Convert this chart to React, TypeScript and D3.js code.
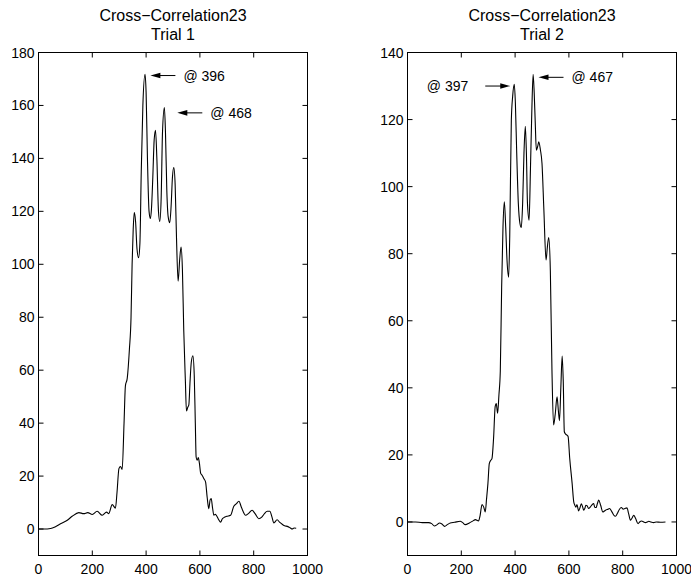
import React from 'react';
import * as d3 from 'd3';

// trial 1 cross-correlation (lag, value)
const trial1Lag = [
  0, 20, 45, 63, 82, 107, 125, 150, 168, 183, 200, 218, 237, 253, 261, 274, 286, 292, 299, 305, 311, 318, 323,
  330, 338, 344, 348, 352, 356, 361, 366, 372, 377, 382, 388, 396, 400, 405, 411, 416, 420, 425, 430, 435, 440,
  446, 451, 456, 461, 468, 472, 477, 482, 488, 493, 498, 503, 508, 513, 519, 525, 530, 535, 540, 546, 550, 555,
  559, 563, 568, 574, 579, 583, 586, 590, 594, 598, 603, 608, 615, 621, 627, 633, 638, 642, 647, 652, 657, 662,
  670, 677, 683, 689, 700, 714, 726, 735, 745, 755, 770, 780, 794, 805, 819, 830, 840, 850, 860, 868, 875, 887,
  897, 906, 915, 925, 935, 943, 950, 958,
];
const trial1Val = [
  0, 0, 0.2, 0.9, 2, 3.3, 4.8, 6.2, 5.8, 6.2, 5.5, 6.7, 5.2, 6.4, 5.8, 9.2, 7.9, 14, 22.8, 23.6, 22.5, 40, 54,
  57, 68, 80, 100, 113, 119.5, 116, 106, 102.5, 108, 135, 160, 171.8, 165, 140, 120, 117.3, 121, 133, 147, 150.6,
  140, 120, 116.2, 125, 150, 159.2, 150, 128, 118, 115.7, 122, 133, 136.5, 130, 110, 93.6, 102, 106.5, 98, 75,
  56, 44.6, 46, 47, 55, 63, 65.4, 58, 40, 27.2, 26, 27, 25, 21, 20.3, 19, 17.8, 12, 7.7, 11, 11.5, 8, 5.2, 5.6,
  5, 3.5, 2.6, 3.8, 4.3, 4.8, 5.2, 8.6, 9.5, 10.5, 8, 5.2, 5.8, 7.1, 5.8, 3.9, 4.5, 5.8, 6.7, 6.7, 4.5, 2.3,
  3.5, 2.5, 1.8, 1.2, 1, 0.5, 0, 0.4, 0.3,
];

// trial 2
const trial2Lag = [
  0, 30, 55, 78, 90, 100, 110, 119, 128, 138, 148, 159, 175, 196, 205, 215, 230, 245, 252, 264, 270, 277, 283,
  289, 294, 299, 304, 309, 314, 320, 326, 330, 335, 340, 345, 350, 355, 360, 365, 370, 376, 380, 386, 391, 397,
  401, 406, 412, 418, 423, 428, 433, 438, 442, 446, 452, 457, 462, 467, 471, 475, 479, 484, 488, 494, 500, 507,
  515, 520, 525, 531, 537, 543, 549, 556, 561, 565, 570, 575, 579, 583, 588, 593, 597, 603, 612, 618, 622, 626,
  630, 636, 641, 646, 651, 655, 659, 663, 668, 673, 680, 685, 692, 696, 701, 706, 711, 718, 726, 731, 736, 745,
  751, 760, 767, 773, 780, 788, 795, 802, 808, 816, 822, 829, 835, 841, 848, 857, 863, 870, 878, 885, 891, 897,
  905, 915, 925, 940, 959,
];
const trial2Val = [
  0, 0, -0.2, -0.2, -0.5, -1.2, -0.8, -0.3, -0.6, -1.3, -0.8, -0.3, -0.1, 0.2, -0.2, -0.8, -0.3, 0.4, 0.7, 0.3,
  2, 5.2, 4.5, 3, 7, 11.5, 17.4, 18.3, 18.9, 25, 34.5, 35.3, 32.4, 38, 45, 70, 88, 95.5, 88, 78, 73, 85, 119.8,
  127, 130.5, 125, 110, 95, 89, 87.8, 95, 110, 118, 110, 95, 90, 105, 122, 133.5, 128, 118.8, 110.9, 112, 113.4,
  111, 106.9, 93, 78.1, 82, 84.8, 75, 45.3, 28.9, 32, 37.3, 33, 30.2, 40, 49.5, 42, 26.9, 26.2, 25.9, 25.5, 19,
  11.5, 6, 5, 4.4, 5.2, 3.3, 4.2, 5.4, 4.5, 3.5, 4, 5, 4.8, 4, 4.5, 5, 5.5, 4.4, 4.3, 5.5, 6.5, 5, 3, 3.2, 3.5,
  3.8, 4, 3, 2, 1.7, 2.5, 3.8, 4.3, 3.8, 4, 4.2, 2.5, 0.5, 1.2, 2, 1, -0.5, 0, 0.3, 0, -0.2, 0, 0.2, 0, -0.2, 0,
  -0.1, 0,
];

const xTicks = [0, 200, 400, 600, 800, 1000];
const yTicks1 = [0, 20, 40, 60, 80, 100, 120, 140, 160, 180];
const yTicks2 = [0, 20, 40, 60, 80, 100, 120, 140];

// arrow head position in data units; dir = where the arrow points
const notes1 = [
  { label: '@ 396', lag: 416, val: 171.3, dir: 'left' },
  { label: '@ 468', lag: 516, val: 157.2, dir: 'left' },
];
const notes2 = [
  { label: '@ 397', lag: 382, val: 130, dir: 'right' },
  { label: '@ 467', lag: 487, val: 132.6, dir: 'left' },
];

const W = 691;
const H = 576;
const FONT = '"Liberation Sans", Arial, Helvetica, sans-serif';
const TICK = 5;

type Note = { label: string; lag: number; val: number; dir: string };

function Panel(props: {
  left: number;
  right: number;
  top: number;
  bottom: number;
  lag: number[];
  val: number[];
  yMax: number;
  yTicks: number[];
  title: string[];
  notes: Note[];
}) {
  const { left, right, top, bottom, lag, val, yMax, yTicks, title, notes } = props;
  const x = d3.scaleLinear().domain([0, 1000]).range([left, right]);
  const y = d3.scaleLinear().domain([-10, yMax]).range([bottom, top]);
  const pts: [number, number][] = lag.map((l, i) => [l, val[i]]);
  const line = d3
    .line<[number, number]>()
    .x((d) => x(d[0]))
    .y((d) => y(d[1]))
    .curve(d3.curveMonotoneX);
  const cx = (left + right) / 2;

  return (
    <g>
      <text x={cx} y={21} textAnchor="middle" fontSize={16} fontFamily={FONT}>
        {title[0]}
      </text>
      <text x={cx} y={39.5} textAnchor="middle" fontSize={16} fontFamily={FONT}>
        {title[1]}
      </text>

      <path d={line(pts) || ''} fill="none" stroke="#000" strokeWidth={1.1} />

      {xTicks.map((t) => (
        <g key={'x' + t}>
          <line x1={x(t)} x2={x(t)} y1={bottom} y2={bottom - TICK} stroke="#000" />
          <line x1={x(t)} x2={x(t)} y1={top} y2={top + TICK} stroke="#000" />
          <text x={x(t)} y={bottom + 18} textAnchor="middle" fontSize={14} fontFamily={FONT}>
            {t}
          </text>
        </g>
      ))}
      {yTicks.map((t) => (
        <g key={'y' + t}>
          <line x1={left} x2={left + TICK} y1={y(t)} y2={y(t)} stroke="#000" />
          <line x1={right} x2={right - TICK} y1={y(t)} y2={y(t)} stroke="#000" />
          <text x={left - 4} y={y(t) + 5} textAnchor="end" fontSize={14} fontFamily={FONT}>
            {t}
          </text>
        </g>
      ))}
      <rect x={left} y={top} width={right - left} height={bottom - top} fill="none" stroke="#000" />

      {notes.map((n) => {
        const hx = x(n.lag);
        const hy = y(n.val);
        const s = n.dir === 'left' ? 1 : -1;
        const tx = hx + s * 25;
        return (
          <g key={n.label}>
            <line x1={hx + s * 8} x2={tx} y1={hy} y2={hy} stroke="#000" />
            <path d={`M${hx},${hy} L${hx + s * 10},${hy - 2.8} L${hx + s * 10},${hy + 2.8} Z`} fill="#000" />
            <text
              x={n.dir === 'left' ? tx + 8 : tx - 17}
              y={hy + 5}
              textAnchor={n.dir === 'left' ? 'start' : 'end'}
              fontSize={14}
              fontFamily={FONT}
            >
              {n.label}
            </text>
          </g>
        );
      })}
    </g>
  );
}

export default function App() {
  return (
    <svg
      width={W}
      height={H}
      viewBox={`0 0 ${W} ${H}`}
      style={{ position: 'absolute', left: 0, top: 0, background: '#fff' }}
    >
      <rect width={W} height={H} fill="#fff" />
      <Panel
        left={38.5}
        right={307.5}
        top={52.5}
        bottom={555.5}
        lag={trial1Lag}
        val={trial1Val}
        yMax={180}
        yTicks={yTicks1}
        title={['Cross\u2212Correlation23', 'Trial 1']}
        notes={notes1}
      />
      <Panel
        left={407.5}
        right={676.5}
        top={52.5}
        bottom={555.5}
        lag={trial2Lag}
        val={trial2Val}
        yMax={140}
        yTicks={yTicks2}
        title={['Cross\u2212Correlation23', 'Trial 2']}
        notes={notes2}
      />
    </svg>
  );
}
